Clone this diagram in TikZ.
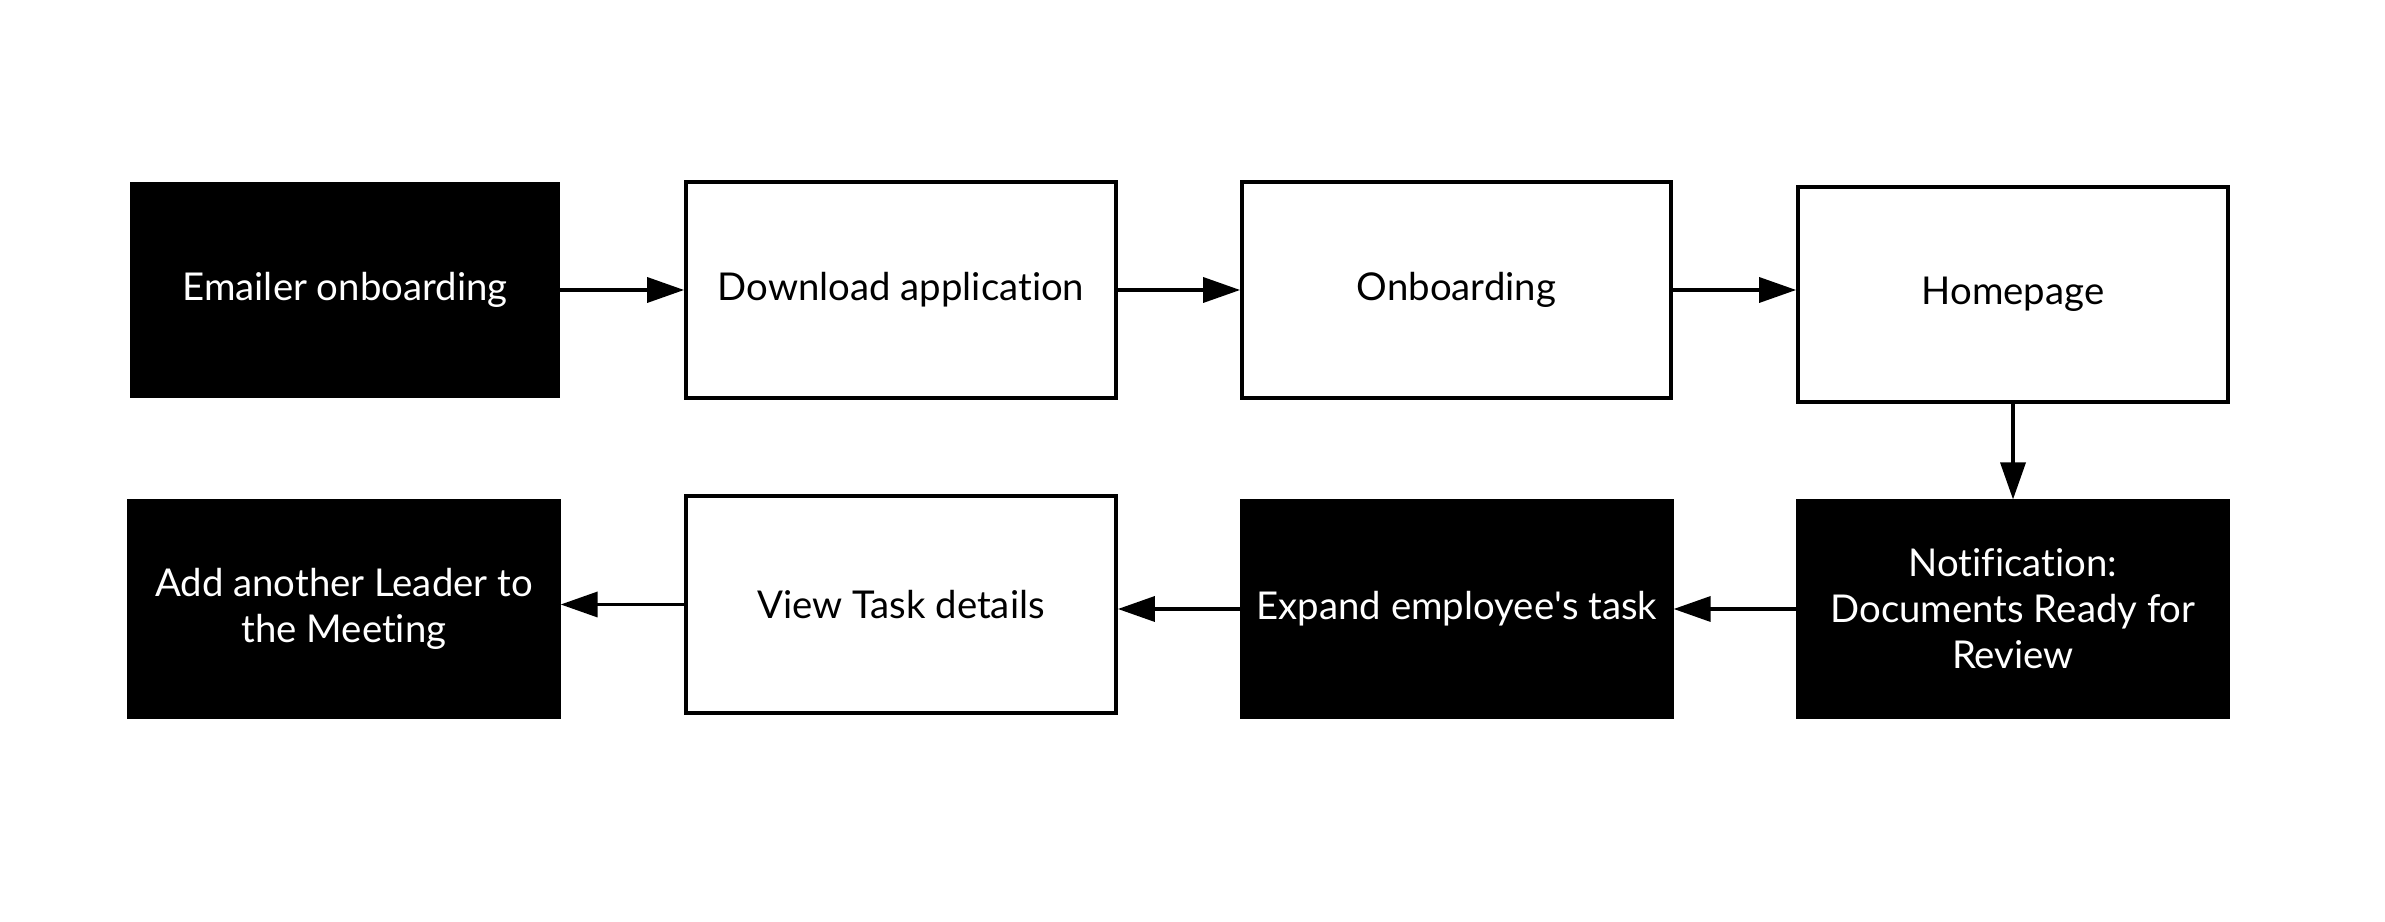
\documentclass[tikz,border=0pt]{standalone}
\usepackage{fontspec}
\setmainfont{Lato}[Ligatures={NoCommon,NoDiscretionary}]
\usetikzlibrary{arrows.meta}
\begin{document}
\begin{tikzpicture}[x=0.01cm,y=-0.01cm,
  box/.style={rectangle,draw=black,line width=0.035cm,align=center,
    font=\fontsize{10.9}{13.1}\selectfont,inner sep=0pt},
  whitebox/.style={box,fill=white,text=black},
  blackbox/.style={box,fill=black,text=white,line width=0.01cm},
  conn/.style={line width=0.035cm,-{Triangle[length=0.37cm,width=0.25cm]}}]
\useasboundingbox (0,0) rectangle (2385,922);
\node[blackbox,minimum width=4.28cm,minimum height=2.14cm] (em) at (345,290) {Emailer onboarding};
\node[whitebox,minimum width=4.30cm,minimum height=2.16cm] (dl) at (901,290) {Download application};
\node[whitebox,minimum width=4.29cm,minimum height=2.16cm] (ob) at (1456.5,290) {Onboarding};
\node[whitebox,minimum width=4.30cm,minimum height=2.15cm] (hp) at (2013,294.5) {Homepage};
\node[blackbox,minimum width=4.32cm,minimum height=2.18cm] (nt) at (2013,609) {Notification:\\Documents Ready for\\Review};
\node[blackbox,minimum width=4.32cm,minimum height=2.18cm] (ex) at (1457,609) {Expand employee\textquotesingle s task};
\node[whitebox,minimum width=4.30cm,minimum height=2.17cm] (vt) at (901,604.5) {View Task details};
\node[blackbox,minimum width=4.32cm,minimum height=2.18cm] (ad) at (344,609) {Add another Leader to\\the Meeting};
\draw[conn] (em.east) -- (dl.west);
\draw[conn] (dl.east) -- (ob.west);
\draw[conn] (ob.east) -- (ob.east -| hp.west);
\draw[conn] (hp.south) -- (nt.north);
\draw[conn] (nt.west) -- (ex.east);
\draw[conn] (ex.west) -- (ex.west -| vt.east);
\draw[conn] (vt.west) -- (vt.west -| ad.east);
\end{tikzpicture}
\end{document}
